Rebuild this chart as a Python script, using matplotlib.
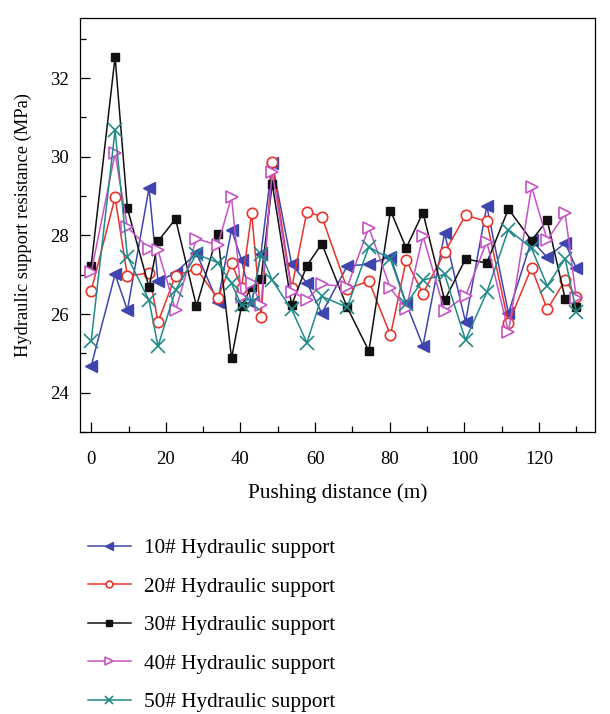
import matplotlib
matplotlib.use("Agg")
import matplotlib.pyplot as plt
from matplotlib.ticker import MultipleLocator

plt.rcParams['font.family'] = ['Liberation Serif', 'DejaVu Serif']

# Pushing distance (m)
distance = [0, 6.4, 9.7, 15.5, 17.9, 22.6, 28.2, 33.9, 37.6, 40.3, 43, 45.5, 48.5,
            53.7, 57.8, 61.8, 68.6, 74.4, 80.2, 84.4, 88.9, 94.7, 100.3, 106,
            111.8, 118, 122.2, 127, 130]

# Working resistance of each hydraulic support (MPa)
support_10 = [24.68, 27.01, 26.10, 29.21, 26.83, 27.05, 27.55, 26.31, 28.15, 27.37,
              26.27, 27.54, 29.85, 27.27, 26.79, 26.02, 27.22, 27.27, 27.46, 26.27,
              25.19, 28.05, 25.80, 28.75, 26.02, 27.88, 27.44, 27.81, 27.16]
support_20 = [26.59, 28.97, 26.96, 27.05, 25.79, 26.98, 27.15, 26.40, 27.30, 26.67,
              28.57, 25.93, 29.87, 26.65, 28.60, 28.48, 26.64, 26.84, 25.46, 27.37,
              26.52, 27.57, 28.51, 28.36, 25.76, 27.18, 26.12, 26.86, 26.44]
support_30 = [27.23, 32.54, 28.69, 26.68, 27.85, 28.42, 26.20, 28.04, 24.87, 26.21,
              26.70, 26.88, 29.32, 26.23, 27.23, 27.79, 26.17, 25.06, 28.63, 27.68,
              28.58, 26.35, 27.40, 27.30, 28.67, 27.87, 28.39, 26.39, 26.18]
support_40 = [27.06, 30.09, 28.21, 27.66, 27.62, 26.10, 27.92, 27.75, 28.98, 26.44,
              26.78, 26.23, 29.62, 26.57, 26.37, 26.76, 26.69, 28.20, 26.65, 26.14,
              27.99, 26.08, 26.46, 27.84, 25.55, 29.24, 27.88, 28.56, 26.40]
support_50 = [25.32, 30.68, 27.46, 26.35, 25.18, 26.61, 27.52, 27.31, 26.78, 26.22,
              26.27, 27.54, 26.86, 26.12, 25.27, 26.45, 26.17, 27.71, 27.39, 26.25,
              26.86, 27.01, 25.34, 26.55, 28.15, 27.67, 26.72, 27.41, 26.06]

labels = ['10# Hydraulic support', '20# Hydraulic support', '30# Hydraulic support',
          '40# Hydraulic support', '50# Hydraulic support']

x_ticks = [0, 20, 40, 60, 80, 100, 120]
y_ticks = [24, 26, 28, 30, 32]

styles = [
    dict(color='#3f45ae', marker='<', markersize=8, markerfacecolor='#3f45ae',
         markeredgecolor='#3f45ae'),
    dict(color='#e8332b', marker='o', markersize=7.5, markerfacecolor='white',
         markeredgecolor='#e8332b', markeredgewidth=1.2),
    dict(color='#111111', marker='s', markersize=6, markerfacecolor='#111111',
         markeredgecolor='#111111'),
    dict(color='#c653c6', marker='>', markersize=8, markerfacecolor='white',
         markeredgecolor='#c653c6', markeredgewidth=1.2),
    dict(color='#1f8a88', marker='x', markersize=9.5, markeredgewidth=1.2),
]

fig = plt.figure(figsize=(6.10, 7.14), dpi=100)
ax = fig.add_axes([80 / 610, 1 - 432 / 714, 515 / 610, 414 / 714])

series = [support_10, support_20, support_30, support_40, support_50]
for vals, lab, st in zip(series, labels, styles):
    ax.plot(distance, vals, linewidth=1.1, label=lab, **st)

ax.set_xlim(-3, 135)
ax.set_ylim(23, 33.53)
ax.set_xticks(x_ticks)
ax.set_yticks(y_ticks)
ax.xaxis.set_minor_locator(MultipleLocator(10))
ax.yaxis.set_minor_locator(MultipleLocator(1))
ax.tick_params(which='both', direction='in', top=False, right=False,
               labelsize=13.5, width=0.9)
ax.tick_params(which='major', length=7)
ax.tick_params(which='minor', length=4)
ax.tick_params(axis='x', pad=14)
ax.tick_params(axis='y', pad=8)
for sp in ax.spines.values():
    sp.set_linewidth(0.9)

ax.set_xlabel('Pushing distance (m)', fontsize=15.3, labelpad=11)
ax.set_ylabel('Hydraulic support resistance (MPa)', fontsize=13.3, labelpad=13)

handles, labs = ax.get_legend_handles_labels()
fig.legend(handles, labs, loc='upper left', bbox_to_anchor=(69 / 610, 1 - 519 / 714),
           frameon=False, fontsize=15.3, numpoints=1, markerscale=0.65,
           handlelength=2.0, handletextpad=0.65, labelspacing=0.88)

fig.savefig('out.png', dpi=100)
